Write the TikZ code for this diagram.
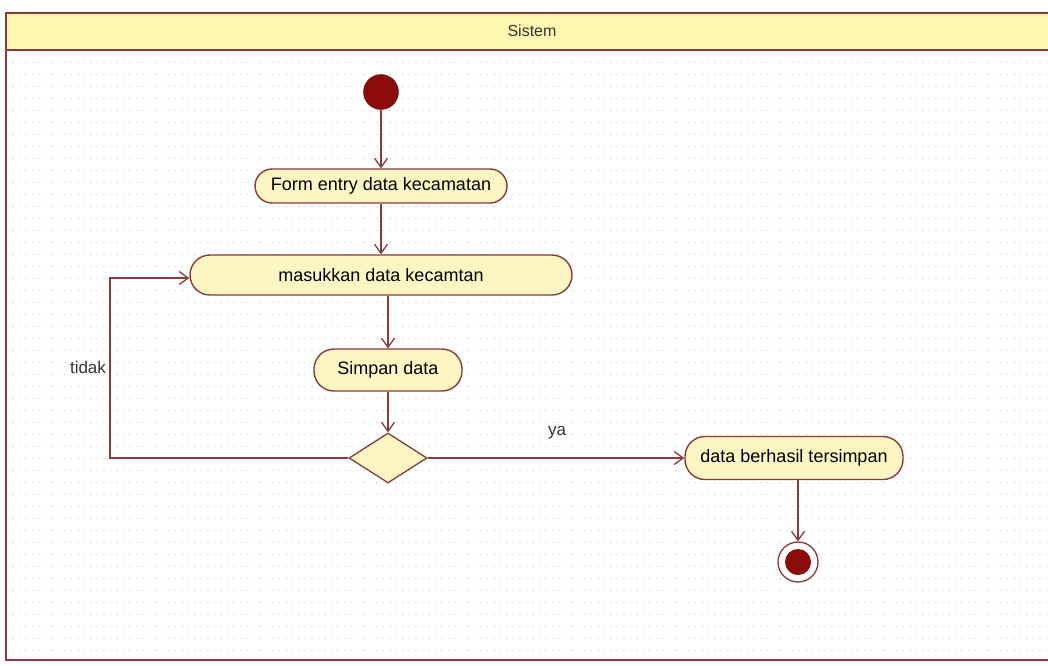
\documentclass[tikz,border=0pt]{standalone}
\usepackage{fontspec}
\setmainfont{Liberation Sans}
\usetikzlibrary{arrows.meta,shapes.geometric}
\definecolor{umlline}{HTML}{8A3A3A}
\definecolor{umlfill}{HTML}{FDF6C3}
\definecolor{headfill}{HTML}{FFF7B0}
\definecolor{startred}{HTML}{8B0A0A}
\definecolor{gridcol}{HTML}{D8D8D8}
\tikzset{
  action/.style={draw=umlline, line width=1.4pt, fill=umlfill, rounded corners=17pt,
    minimum height=34pt, font=\fontsize{18}{20}\selectfont, inner xsep=10pt},
  flow/.style={draw=umlline, line width=1.3pt, -{Straight Barb[length=9pt,width=13pt]}},
  lbl/.style={font=\fontsize{17}{19}\selectfont, text=black!80},
}
\begin{document}
\begin{tikzpicture}[x=1pt,y=-1pt]
\useasboundingbox (0,0) rectangle (1048,665);
\fill[white] (0,0) rectangle (1048,665);
% dotted grid
\clip (0,0) rectangle (1048,665);
\foreach \yy in {62,74,...,656}{
  \draw[gridcol, line width=0.9pt, dash pattern=on 1.5pt off 5pt] (12,\yy) -- (1048,\yy);
}
% frame
\fill[headfill] (6,13) rectangle (1060,50);
\draw[umlline, line width=2.2pt] (1060,13) -- (6,13) -- (6,660) -- (1060,660);
\draw[umlline, line width=2.2pt] (6,50) -- (1060,50);
\node[lbl, font=\fontsize{16}{18}\selectfont] (lane) at (532,31) {Sistem};

% nodes
\node[circle, fill=startred, draw=startred!70!black, minimum size=35pt, inner sep=0pt] (start) at (381,92) {};
\node[action, minimum width=252pt] (form) at (381,186) {Form entry data kecamatan};
\node[action, minimum width=382pt, minimum height=40pt, rounded corners=20pt] (masuk) at (381,275) {masukkan data kecamtan};
\node[action, minimum width=148pt, minimum height=42pt, rounded corners=20pt] (simpan) at (388,370) {Simpan data};
\node[diamond, draw=umlline, line width=1.3pt, fill=umlfill, minimum width=78pt, minimum height=50pt, inner sep=0pt] (dec) at (388,458) {};
\node[action, minimum width=218pt, minimum height=43pt, rounded corners=20pt] (hasil) at (794,458) {data berhasil tersimpan};
\node[circle, draw=umlline, line width=1.3pt, fill=white, minimum size=40pt, inner sep=0pt] (end) at (798,562) {};
\node[circle, fill=startred, minimum size=26pt, inner sep=0pt] (endin) at (798,562) {};

\coordinate (tl) at (110,458);
\coordinate (tu) at (110,278);

% flows
\draw[flow] (start.south) -- (form.north);
\draw[flow] (form.south) -- (masuk.north);
\draw[flow] (masuk.south -| simpan.north) -- (simpan.north);
\draw[flow] (simpan.south) -- (dec.north);
\draw[flow] (dec.west) -- (tl) -- (tu) -- (masuk.west |- tu);
\draw[flow] (dec.east) -- (hasil.west);
\draw[flow] (hasil.south -| end.north) -- (end.north);

\node[lbl] (tidak) at (88,367) {tidak};
\node[lbl] (ya) at (557,433) {ya};
\end{tikzpicture}
\end{document}
